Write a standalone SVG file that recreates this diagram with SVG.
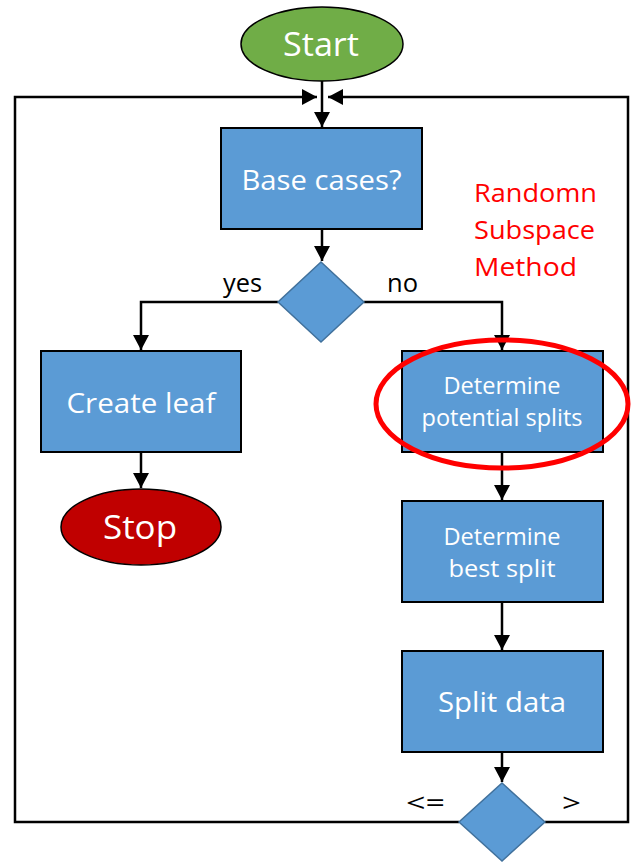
<svg xmlns="http://www.w3.org/2000/svg" width="641" height="864" viewBox="0 0 641 864">
<defs>
<marker id="arr" markerUnits="userSpaceOnUse" markerWidth="16" markerHeight="16" viewBox="0 0 16 16" refX="15" refY="8" orient="auto">
<path d="M0,0 L15,8 L0,16 Z" fill="#000"/>
</marker>
</defs>
<style>
.box{fill:#5B9BD5;stroke:#000;stroke-width:2}
.dia{fill:#5B9BD5;stroke:#41719C;stroke-width:1.5}
.con{fill:none;stroke:#000;stroke-width:2.5}
.t{font-family:"Open Sans","Noto Sans",sans-serif;fill:#fff;text-anchor:middle}
.lbl{font-family:"Open Sans","Noto Sans",sans-serif;fill:#000;font-size:25px}
.red{font-family:"Open Sans","Noto Sans",sans-serif;fill:#FF0000;font-size:26px}
</style>
<rect width="641" height="864" fill="#fff"/>
<g id="connectors">
<path class="con" d="M322,81 L322,127" marker-end="url(#arr)"/>
<path class="con" d="M322,229 L322,261" marker-end="url(#arr)"/>
<path class="con" d="M278,302 L141,302 L141,350" marker-end="url(#arr)"/>
<path class="con" d="M364,302 L502,302 L502,350" marker-end="url(#arr)"/>
<path class="con" d="M141,452 L141,488" marker-end="url(#arr)"/>
<path class="con" d="M502,452 L502,500" marker-end="url(#arr)"/>
<path class="con" d="M502,602 L502,650" marker-end="url(#arr)"/>
<path class="con" d="M502,752 L502,782" marker-end="url(#arr)"/>
<path class="con" d="M459,822 L15,822 L15,97 L317,97" marker-end="url(#arr)"/>
<path class="con" d="M545,822 L628,822 L628,97 L328,97" marker-end="url(#arr)"/>
<text class="lbl" x="223" y="292" textLength="39" lengthAdjust="spacingAndGlyphs">yes</text>
<text class="lbl" x="387" y="292" textLength="31" lengthAdjust="spacingAndGlyphs">no</text>
<text class="lbl" x="406" y="812" textLength="39" lengthAdjust="spacingAndGlyphs">&lt;=</text>
<text class="lbl" x="562" y="812" textLength="19" lengthAdjust="spacingAndGlyphs">&gt;</text>
</g>
<g id="start">
<ellipse cx="322" cy="44" rx="81" ry="37" fill="#70AD47" stroke="#000" stroke-width="1.5"/>
<text class="t" x="321" y="56" font-size="32" textLength="76" lengthAdjust="spacingAndGlyphs">Start</text>
</g>
<g id="base">
<rect class="box" x="221" y="128" width="201" height="101"/>
<text class="t" x="321.5" y="190" font-size="28" textLength="160" lengthAdjust="spacingAndGlyphs">Base cases?</text>
</g>
<g id="dec1">
<path class="dia" d="M321,262 L364,302 L321,342 L278,302 Z"/>
</g>
<g id="leaf">
<rect class="box" x="41" y="351" width="200" height="101"/>
<text class="t" x="141" y="413" font-size="28" textLength="149" lengthAdjust="spacingAndGlyphs">Create leaf</text>
</g>
<g id="stop">
<ellipse cx="141" cy="527" rx="80" ry="38" fill="#C00000" stroke="#000" stroke-width="1.5"/>
<text class="t" x="140" y="539" font-size="32" textLength="74" lengthAdjust="spacingAndGlyphs">Stop</text>
</g>
<g id="potential">
<rect class="box" x="402" y="351" width="201" height="101"/>
<text class="t" x="502" y="394" font-size="23" textLength="117" lengthAdjust="spacingAndGlyphs">Determine</text>
<text class="t" x="502" y="426" font-size="23" textLength="161" lengthAdjust="spacingAndGlyphs">potential splits</text>
</g>
<g id="best">
<rect class="box" x="402" y="501" width="201" height="101"/>
<text class="t" x="502" y="545" font-size="23" textLength="117" lengthAdjust="spacingAndGlyphs">Determine</text>
<text class="t" x="502" y="577" font-size="23" textLength="107" lengthAdjust="spacingAndGlyphs">best split</text>
</g>
<g id="split">
<rect class="box" x="402" y="651" width="201" height="101"/>
<text class="t" x="502" y="712" font-size="28" textLength="128" lengthAdjust="spacingAndGlyphs">Split data</text>
</g>
<g id="dec2">
<path class="dia" d="M502,783 L545,822 L502,861 L459,822 Z"/>
</g>
<g id="highlight">
<ellipse cx="502" cy="404" rx="126" ry="64" fill="none" stroke="#FF0000" stroke-width="5"/>
</g>
<g id="note">
<text class="red" x="474" y="202" textLength="123" lengthAdjust="spacingAndGlyphs">Randomn</text>
<text class="red" x="474" y="239" textLength="121" lengthAdjust="spacingAndGlyphs">Subspace</text>
<text class="red" x="474" y="276" textLength="103" lengthAdjust="spacingAndGlyphs">Method</text>
</g>
</svg>
